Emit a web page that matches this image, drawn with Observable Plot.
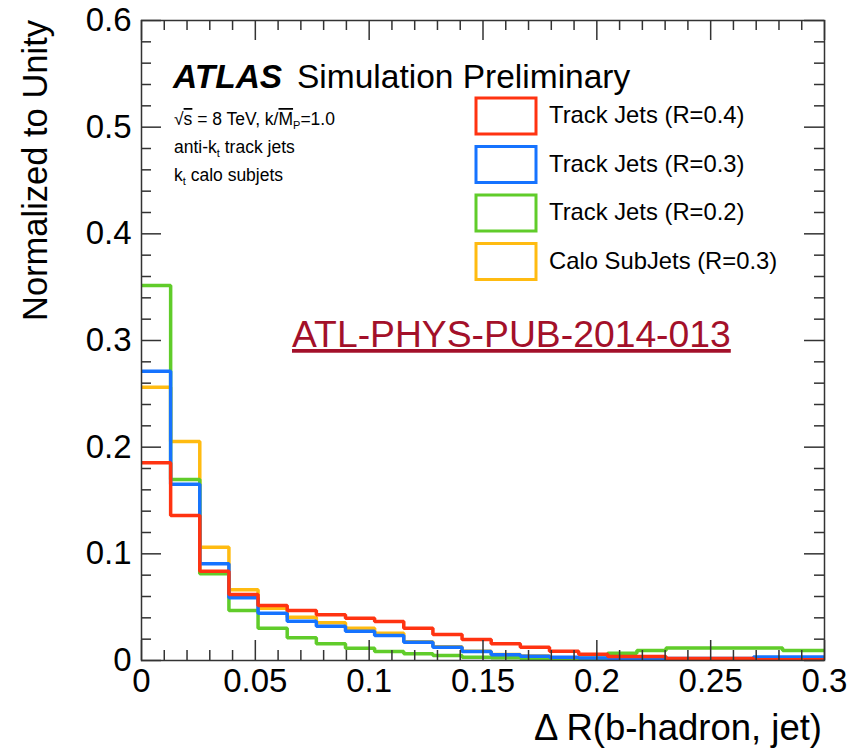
<!DOCTYPE html>
<html><head><meta charset="utf-8">
<script src="https://cdn.jsdelivr.net/npm/d3@7"></script>
<script src="https://cdn.jsdelivr.net/npm/@observablehq/plot@0.6"></script>
<style>body{margin:0;background:#fff}#chart{width:856px;height:750px}</style>
</head><body><div id="chart"></div>
<script>
// ---- data ----
const binEdges = [0,0.0128,0.0256,0.0384,0.0512,0.064,0.0768,0.0896,0.1024,0.1152,0.128,0.1408,0.1536,0.1664,0.1792,0.192,0.2048,0.2176,0.2304,0.2432,0.256,0.2688,0.2816,0.2944,0.3072];
const seriesNames = ["Track Jets (R=0.4)", "Track Jets (R=0.3)", "Track Jets (R=0.2)", "Calo SubJets (R=0.3)"];
const seriesColors = ["#ff3311", "#1673ff", "#60cc2a", "#ffbb11"];
const trackR04 = [0.1853,0.1359,0.0837,0.0619,0.0516,0.0469,0.0428,0.0397,0.0366,0.0303,0.0244,0.0197,0.0157,0.0125,0.0087,0.0058,0.0038,0.0038,0.0018,0.0018,0.0018,0.0008,0.0008,0.0008];
const trackR03 = [0.2712,0.1653,0.0907,0.0588,0.0443,0.0368,0.0322,0.0275,0.0234,0.0172,0.0125,0.0084,0.0053,0.0040,0.0031,0.0024,0.0022,0.0022,0.0018,0.0018,0.0018,0.0032,0.0032,0.0032];
const trackR02 = [0.3516,0.1697,0.0813,0.0469,0.0303,0.0213,0.0157,0.0115,0.0084,0.0063,0.0047,0.0031,0.0025,0.0018,0.0015,0.0022,0.0069,0.0094,0.0117,0.0117,0.0117,0.0117,0.0094,0.0094];
const caloR03 = [0.2562,0.2053,0.1062,0.0663,0.0490,0.0406,0.0353,0.0303,0.0256,0.0176,0.0128,0.0087,0.0056,0.0042,0.0015,0.0012,0.0008,0.0003,0.0003,0.0003,0.0003,0.0002,0.0002,0.0002];
const xMajor = [0,0.05,0.1,0.15,0.2,0.25,0.3];
const xTickLabels = ["0","0.05","0.1","0.15","0.2","0.25","0.3"];
const xMinor = [0.01,0.02,0.03,0.04,0.06,0.07,0.08,0.09,0.11,0.12,0.13,0.14,0.16,0.17,0.18,0.19,0.21,0.22,0.23,0.24,0.26,0.27,0.28,0.29];
const yMajor = [0,0.1,0.2,0.3,0.4,0.5,0.6];
const yTickLabels = ["0","0.1","0.2","0.3","0.4","0.5","0.6"];
const yMinor = [0.02,0.04,0.06,0.08,0.12,0.14,0.16,0.18,0.22,0.24,0.26,0.28,0.32,0.34,0.36,0.38,0.42,0.44,0.46,0.48,0.52,0.54,0.56,0.58];

// ---- build ----
const seriesValues = [trackR04, trackR03, trackR02, caloR03];
function steps(vals) {
  const out = [];
  vals.forEach((v, i) => { out.push({x: binEdges[i], y: v}); out.push({x: binEdges[i + 1], y: v}); });
  return out;
}
const W = 856, H = 750, mL = 141, mR = 32, mT = 20, mB = 90;
const plotW = W - mL - mR, plotH = H - mT - mB;
const font = "'Liberation Sans', Arial, Helvetica, sans-serif";
const drawOrder = [3, 2, 1, 0];
const ink = "#333";

const plot = Plot.plot({
  width: W, height: H,
  marginLeft: mL, marginRight: mR, marginTop: mT, marginBottom: mB,
  style: {fontFamily: font, background: "white", color: "black"},
  x: {domain: [0, 0.3]},
  y: {domain: [0, 0.6]},
  marks: [
    ...drawOrder.map(k => Plot.line(steps(seriesValues[k]), {x: "x", y: "y", stroke: seriesColors[k], strokeWidth: 3.5, clip: true, strokeLinejoin: "miter"})),
    Plot.frame({stroke: ink, strokeWidth: 1.5}),
    Plot.ruleX(xMajor, {x: d => d, insetTop: plotH - 20, stroke: ink, strokeWidth: 1.5}),
    Plot.ruleX(xMinor, {x: d => d, insetTop: plotH - 10, stroke: ink, strokeWidth: 1.5}),
    Plot.ruleX(xMajor, {x: d => d, insetBottom: plotH - 20, stroke: ink, strokeWidth: 1.5}),
    Plot.ruleX(xMinor, {x: d => d, insetBottom: plotH - 10, stroke: ink, strokeWidth: 1.5}),
    Plot.ruleY(yMajor, {y: d => d, insetRight: plotW - 20, stroke: ink, strokeWidth: 1.5}),
    Plot.ruleY(yMinor, {y: d => d, insetRight: plotW - 10, stroke: ink, strokeWidth: 1.5}),
    Plot.ruleY(yMajor, {y: d => d, insetLeft: plotW - 20, stroke: ink, strokeWidth: 1.5}),
    Plot.ruleY(yMinor, {y: d => d, insetLeft: plotW - 10, stroke: ink, strokeWidth: 1.5}),
    Plot.axisX(xMajor, {anchor: "bottom", tickSize: 0, tickPadding: 8, fontSize: 33, label: null,
      tickFormat: d => xTickLabels[xMajor.indexOf(d)]}),
    Plot.axisY(yMajor, {anchor: "left", tickSize: 0, tickPadding: 10, fontSize: 33, label: null,
      tickFormat: d => yTickLabels[yMajor.indexOf(d)]})
  ]
});
document.getElementById("chart").appendChild(plot);

// ---- annotations ----
const svg = d3.select(plot);
const g = svg.append("g").attr("font-family", font).attr("fill", "black").attr("text-anchor", "start");

// axis titles
g.append("text").attr("transform", "translate(47,20) rotate(-90)").attr("text-anchor", "end")
  .attr("font-size", 34.5).text("Normalized to Unity");
g.append("text").attr("x", 822).attr("y", 740).attr("text-anchor", "end")
  .attr("font-size", 36.5).text("\u0394 R(b-hadron, jet)");

// ATLAS label
g.append("text").attr("x", 173).attr("y", 88).attr("font-size", 33.5)
  .attr("font-weight", "bold").attr("font-style", "italic").text("ATLAS");
g.append("text").attr("x", 297).attr("y", 88).attr("font-size", 33.5).text("Simulation Preliminary");

// small info lines
const fs = 17.5, fsub = 11;
const l1 = g.append("text").attr("x", 174).attr("y", 125).attr("font-size", fs);
l1.append("tspan").text("\u221A");
l1.append("tspan").style("text-decoration", "overline").text("s");
l1.append("tspan").text(" = 8 TeV, k/");
l1.append("tspan").style("text-decoration", "overline").text("M");
l1.append("tspan").attr("font-size", fsub).attr("dy", 4).text("P");
l1.append("tspan").attr("dy", -4).text("=1.0");
const l2 = g.append("text").attr("x", 174).attr("y", 153).attr("font-size", fs);
l2.append("tspan").text("anti-k");
l2.append("tspan").attr("font-size", fsub).attr("dy", 4).text("t");
l2.append("tspan").attr("dy", -4).text(" track jets");
const l3 = g.append("text").attr("x", 174).attr("y", 181).attr("font-size", fs);
l3.append("tspan").text("k");
l3.append("tspan").attr("font-size", fsub).attr("dy", 4).text("t");
l3.append("tspan").attr("dy", -4).text(" calo subjets");

// legend
seriesNames.forEach((name, i) => {
  const y0 = 98 + i * 48.5;
  g.append("rect").attr("x", 476).attr("y", y0).attr("width", 60).attr("height", 36)
    .attr("fill", "none").attr("stroke", seriesColors[i]).attr("stroke-width", 3);
  g.append("text").attr("x", 549).attr("y", y0 + 25).attr("font-size", 23.8).text(name);
});

// reference link text
g.append("text").attr("x", 292).attr("y", 347).attr("font-size", 37.3).attr("fill", "#a3102a")
  .style("text-decoration", "underline").text("ATL-PHYS-PUB-2014-013");
</script>
</body></html>
